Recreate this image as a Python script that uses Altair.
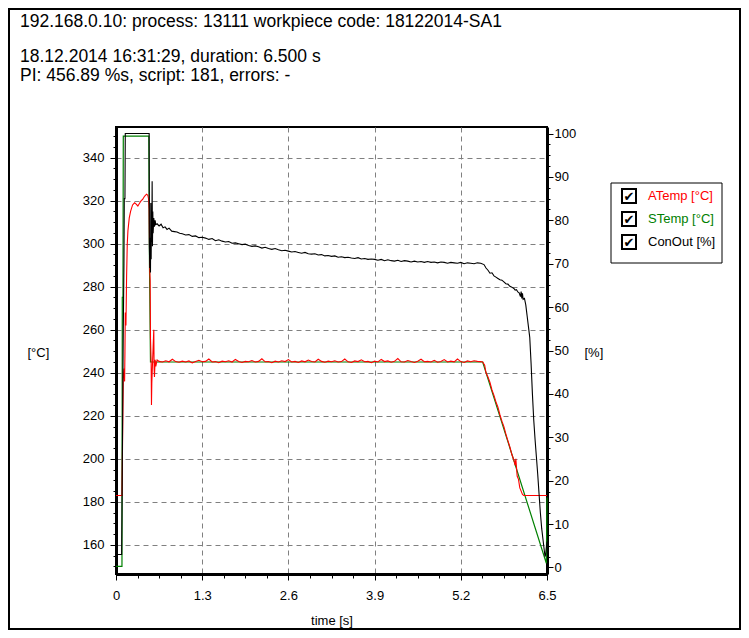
import altair as alt
import pandas as pd

# ---------------- data ----------------
header_lines = [
    "192.168.0.10: process: 13111 workpiece code: 18122014-SA1",
    "18.12.2014 16:31:29, duration: 6.500 s",
    "PI: 456.89 %s, script: 181, errors: -",
]

legend_labels = ["ATemp [°C]", "STemp [°C]", "ConOut [%]"]
legend_colors = ["#ff0000", "#008000", "#000000"]

x_ticks = [0, 0.325, 0.65, 0.975, 1.3, 1.625, 1.95, 2.275, 2.6, 2.925, 3.25,
           3.575, 3.9, 4.225, 4.55, 4.875, 5.2, 5.525, 5.85, 6.175, 6.5]
temp_ticks = [150, 155, 160, 165, 170, 175, 180, 185, 190, 195, 200, 205, 210,
              215, 220, 225, 230, 235, 240, 245, 250, 255, 260, 265, 270, 275,
              280, 285, 290, 295, 300, 305, 310, 315, 320, 325, 330, 335, 340,
              345, 350]
pct_ticks = [0, 2.5, 5, 7.5, 10, 12.5, 15, 17.5, 20, 22.5, 25, 27.5, 30, 32.5,
             35, 37.5, 40, 42.5, 45, 47.5, 50, 52.5, 55, 57.5, 60, 62.5, 65,
             67.5, 70, 72.5, 75, 77.5, 80, 82.5, 85, 87.5, 90, 92.5, 95, 97.5, 100]

# STemp (set temperature, °C)
stemp_t = [0, 0.09, 0.095, 0.105, 0.11, 0.495, 0.505, 0.52, 5.53, 6.49, 6.5]
stemp_v = [150, 150, 275, 275, 350, 350, 290, 245, 245, 151.5, 182]

# ATemp (actual temperature, °C)
atemp_t = [0, 0.08, 0.09, 0.11, 0.12, 0.13, 0.135, 0.14, 0.15, 0.16, 0.17,
           0.18, 0.20, 0.22, 0.25, 0.28, 0.30, 0.33, 0.35, 0.38, 0.40, 0.43,
           0.46, 0.48, 0.49, 0.50, 0.505, 0.51, 0.515, 0.52, 0.53, 0.535,
           0.54, 0.55, 0.56, 0.57, 0.575, 0.58, 0.59, 0.60, 0.62,
           0.65, 0.70, 0.75, 0.80, 0.85, 0.90, 0.95, 1.00, 1.05, 1.10, 1.15,
           1.20, 1.25, 1.30, 1.35, 1.40, 1.45, 1.50, 1.55, 1.60, 1.65, 1.70,
           1.75, 1.80, 1.85, 1.90, 1.95, 2.00, 2.05, 2.10, 2.15, 2.20, 2.25,
           2.30, 2.35, 2.40, 2.45, 2.50, 2.55, 2.60, 2.65, 2.70, 2.75, 2.80,
           2.85, 2.90, 2.95, 3.00, 3.05, 3.10, 3.15, 3.20, 3.25, 3.30, 3.35,
           3.40, 3.45, 3.50, 3.55, 3.60, 3.65, 3.70, 3.75, 3.80, 3.85, 3.90,
           3.95, 4.00, 4.05, 4.10, 4.15, 4.20, 4.25, 4.30, 4.35, 4.40, 4.45,
           4.50, 4.55, 4.60, 4.65, 4.70, 4.75, 4.80, 4.85, 4.90, 4.95, 5.00,
           5.05, 5.10, 5.15, 5.20, 5.25, 5.30, 5.35, 5.40, 5.45, 5.50,
           5.53, 5.56, 5.58, 5.61, 5.64, 5.67, 5.70, 5.73, 5.76, 5.79, 5.82,
           5.85, 5.88, 5.91, 5.94, 5.97, 6.00, 6.02, 6.03, 6.05, 6.07, 6.09,
           6.11, 6.13, 6.15, 6.5]
atemp_v = [183, 183, 183, 238, 242, 236, 250, 268, 262, 285, 300,
           306, 312, 315, 318, 319, 318.5, 317.5, 318.5, 320, 320.5, 322,
           323, 322.5, 321, 316, 300, 287, 283, 256, 245, 225,
           235, 244, 252, 260, 242, 238, 246, 243, 246,
           245.3, 245.0, 245.6, 245.1, 246.3, 245.2, 244.9, 245.4, 245.0, 245.5, 244.6,
           245.2, 245.8, 245.1, 245.3, 246.4, 245.0, 245.2, 244.7, 245.4, 245.1, 245.6,
           245.0, 246.2, 245.2, 244.8, 245.3, 245.1, 245.7, 245.0, 245.3, 246.5, 245.1,
           245.2, 244.7, 245.4, 245.0, 245.6, 245.2, 246.1, 245.0, 245.3, 244.8, 245.5,
           245.1, 245.9, 245.2, 245.0, 246.3, 245.3, 244.9, 245.4, 245.1, 245.6, 245.0,
           245.2, 246.4, 245.1, 244.8, 245.5, 245.2, 246.0, 245.1, 245.3, 244.7, 245.4,
           245.0, 246.2, 245.2, 245.5, 244.9, 245.3, 246.6, 245.1, 245.0, 245.7, 245.2,
           244.8, 245.4, 246.3, 245.1, 245.3, 245.0, 245.8, 244.9, 245.2, 246.1, 245.0,
           245.4, 245.1, 246.4, 245.2, 244.8, 245.5, 245.1, 245.6, 245.3, 245.2,
           245.0, 243.5, 240.0, 238.0, 235.5, 232.0, 229.5, 226.5, 224.0, 220.5, 217.5,
           215.0, 211.5, 208.5, 205.5, 202.0, 199.5, 197.0, 200.0, 192.0, 190.5, 186.5,
           185.0, 183.5, 183.0, 183.0]

# ConOut (controller output, %)
conout_t = [0, 0.085, 0.09, 0.10, 0.11, 0.12, 0.125, 0.135, 0.14, 0.50, 0.503,
            0.51, 0.515, 0.52, 0.525, 0.53, 0.535, 0.54, 0.545, 0.55, 0.555,
            0.56, 0.57, 0.58, 0.59, 0.60, 0.62, 0.65, 0.68, 0.71, 0.74, 0.77,
            0.80, 0.84, 0.88, 0.92, 0.96, 1.00, 1.05, 1.10, 1.15, 1.20, 1.25,
            1.30, 1.35, 1.40, 1.45, 1.50, 1.55, 1.60, 1.65, 1.70, 1.75, 1.80,
            1.85, 1.90, 1.95, 2.00, 2.05, 2.10, 2.15, 2.20, 2.25, 2.30, 2.35,
            2.40, 2.45, 2.50, 2.55, 2.60, 2.65, 2.70, 2.75, 2.80, 2.85, 2.90,
            2.95, 3.00, 3.05, 3.10, 3.15, 3.20, 3.25, 3.30, 3.35, 3.40, 3.45,
            3.50, 3.55, 3.60, 3.65, 3.70, 3.75, 3.80, 3.85, 3.90, 3.95, 4.00,
            4.05, 4.10, 4.15, 4.20, 4.25, 4.30, 4.35, 4.40, 4.45, 4.50, 4.55,
            4.60, 4.65, 4.70, 4.75, 4.80, 4.85, 4.90, 4.95, 5.00, 5.05, 5.10,
            5.15, 5.20, 5.25, 5.30, 5.35, 5.40, 5.45, 5.50, 5.55, 5.58, 5.61,
            5.64, 5.67, 5.70, 5.73, 5.76, 5.79, 5.82, 5.85, 5.88, 5.91, 5.94,
            5.97, 6.00, 6.02, 6.04, 6.06, 6.08, 6.10, 6.11, 6.12, 6.13, 6.14,
            6.16, 6.18, 6.20, 6.22, 6.24, 6.26, 6.28, 6.30, 6.32, 6.34, 6.36,
            6.38, 6.40, 6.42, 6.44, 6.46, 6.47, 6.48, 6.50]
conout_v = [3, 3, 12, 35, 55, 70, 85, 85, 100, 100, 74,
            69, 76, 68, 84, 71, 80, 75, 89, 74, 82,
            77, 80.5, 78.5, 80, 79, 79.2, 78.7, 79.1, 78.3, 78.5, 77.9,
            78.2, 77.5, 77.4, 77.3, 77.0, 76.9, 76.6, 76.7, 76.3, 76.4, 76.0,
            76.1, 75.9, 75.6, 75.8, 75.3, 75.5, 75.2, 75.0, 75.1, 74.7, 74.8,
            74.6, 74.4, 74.5, 74.2, 74.0, 74.1, 73.9, 73.6, 73.8, 73.5, 73.3,
            73.5, 73.2, 73.0, 73.1, 72.9, 72.7, 72.8, 72.6, 72.4, 72.6, 72.3,
            72.2, 72.3, 72.0, 72.1, 71.8, 71.9, 71.7, 71.8, 71.5, 71.6, 71.4,
            71.5, 71.3, 71.2, 71.4, 71.1, 71.2, 71.0, 71.1, 71.0, 70.8, 71.0,
            70.7, 70.9, 70.7, 70.6, 70.8, 70.5, 70.7, 70.6, 70.4, 70.6, 70.4,
            70.5, 70.3, 70.5, 70.3, 70.4, 70.2, 70.4, 70.3, 70.1, 70.3, 70.2,
            70.1, 70.3, 70.0, 70.2, 70.1, 70.0, 70.2, 70.1, 69.8, 69.0, 68.5,
            67.8, 67.9, 67.2, 66.9, 66.6, 66.3, 66.2, 65.8, 65.4, 65.3, 64.8,
            64.6, 64.3, 63.9, 64.0, 63.5, 63.3, 62.4, 63.6, 62.0, 63.2, 61.8,
            62.0, 60.5, 58.0, 55.5, 53.0, 47.0, 40.0, 34.0, 29.5, 25.5, 21.5,
            17.0, 12.6, 9.0, 6.4, 3.8, 2.5, 3.0, 6.0]

n = min(len(atemp_t), len(atemp_v))
atemp_t, atemp_v = atemp_t[:n], atemp_v[:n]
n = min(len(conout_t), len(conout_v))
conout_t, conout_v = conout_t[:n], conout_v[:n]

# ---------------- styling ----------------
FONT = "Liberation Sans"
W, H = 431, 447
GRID = "#808080"

stemp_df = pd.DataFrame({"t": stemp_t, "v": stemp_v})
atemp_df = pd.DataFrame({"t": atemp_t, "v": atemp_v})
conout_df = pd.DataFrame({"t": conout_t, "v": conout_v})
one = pd.DataFrame({"k": [0]})

major_x = "abs(datum.value / 1.3 - round(datum.value / 1.3)) < 0.01"
x_axis = alt.Axis(
    values=x_ticks,
    labelExpr=f"{major_x} ? format(datum.value, '~g') : ''",
    tickSize={"condition": {"test": major_x, "value": 6}, "value": 4},
    grid=True,
    gridColor=GRID,
    gridDash=[5, 4],
    gridOpacity={"condition": {"test": f"{major_x} && datum.value > 0.1 && datum.value < 6.4", "value": 1}, "value": 0},
    title="time [s]",
    titleX=W / 2,
    titleY=46,
    titleBaseline="middle",
    labelPadding=9,
    labelFlush=False,
)
x_enc = alt.X("t:Q", scale=alt.Scale(domain=[0, 6.5], nice=False, zero=False), axis=x_axis)

major_t = "datum.value % 20 == 0"
temp_axis = alt.Axis(
    orient="left",
    values=temp_ticks,
    labelExpr=f"{major_t} ? datum.label : ''",
    tickSize={"condition": {"test": major_t, "value": 6}, "value": 3},
    grid=True,
    gridColor=GRID,
    gridDash=[5, 4],
    gridOpacity={"condition": {"test": major_t, "value": 1}, "value": 0},
    title="[°C]",
    titleAngle=0,
    titleAlign="left",
    titleBaseline="middle",
    titleX=-89,
    titleY=225,
    labelPadding=6,
)
temp_scale = alt.Scale(domain=[146.5, 354.2], nice=False, zero=False)

major_p = "datum.value % 10 == 0"
pct_axis = alt.Axis(
    orient="right",
    values=pct_ticks,
    labelExpr=f"{major_p} ? datum.label : ''",
    tickSize={"condition": {"test": major_p, "value": 6}, "value": 3},
    grid=False,
    title="[%]",
    titleAngle=0,
    titleAlign="left",
    titleBaseline="middle",
    titleX=37,
    titleY=225,
    labelPadding=1,
)
pct_scale = alt.Scale(domain=[-1.5, 101.5], nice=False, zero=False)

stemp = alt.Chart(stemp_df).mark_line(color="#008000", strokeWidth=1.2).encode(
    x=x_enc, y=alt.Y("v:Q", scale=temp_scale, axis=temp_axis), order="t:Q")
atemp = alt.Chart(atemp_df).mark_line(color="#ff0000", strokeWidth=1.1).encode(
    x=x_enc, y=alt.Y("v:Q", scale=temp_scale, axis=temp_axis), order="t:Q")
conout = alt.Chart(conout_df).mark_line(color="#000000", strokeWidth=1.1).encode(
    x=x_enc, y=alt.Y("v:Q", scale=pct_scale, axis=pct_axis), order="t:Q")

temps = alt.layer(stemp, atemp)

# header text
header = []
for txt, yy in zip(header_lines, [-100, -65, -46]):
    header.append(
        alt.Chart(one).mark_text(text=txt, align="left", baseline="alphabetic",
                                 font=FONT, fontSize=17.5, color="black")
        .encode(x=alt.value(-96), y=alt.value(yy)))

# legend
legend = [
    alt.Chart(one).mark_rect(fill="white", stroke="#000000", strokeWidth=1)
    .encode(x=alt.value(495), x2=alt.value(606), y=alt.value(56), y2=alt.value(136))
]
for i, (lab, col) in enumerate(zip(legend_labels, legend_colors)):
    cy = 69 + 23 * i
    legend.append(
        alt.Chart(one).mark_rect(fill="white", stroke="#000000", strokeWidth=2)
        .encode(x=alt.value(506), x2=alt.value(520), y=alt.value(cy - 7), y2=alt.value(cy + 7)))
    legend.append(
        alt.Chart(one).mark_text(text="✔", align="center", baseline="middle",
                                 font="DejaVu Sans", fontSize=13, fontWeight="bold",
                                 color="black")
        .encode(x=alt.value(513), y=alt.value(cy + 1)))
    legend.append(
        alt.Chart(one).mark_text(text=lab, align="left", baseline="middle",
                                 font=FONT, fontSize=13, color=col)
        .encode(x=alt.value(532), y=alt.value(cy)))

frame = alt.Chart(one).mark_rect(filled=False, stroke="black", strokeWidth=2).encode(
    x=alt.value(-107), x2=alt.value(624), y=alt.value(-118), y2=alt.value(502))

chart = alt.layer(
    temps, conout, frame, *header, *legend
).resolve_scale(y="independent").properties(
    width=W, height=H,
    autosize=alt.AutoSizeParams(type="none"),
    padding={"left": 108, "top": 119, "right": 194, "bottom": 56},
).configure_view(
    stroke="black", strokeWidth=2
).configure_axis(
    labelFont=FONT, labelFontSize=13, labelColor="black",
    titleFont=FONT, titleFontSize=13, titleColor="black", titleFontWeight="normal",
    domainColor="black", domainWidth=3, tickColor="black", tickWidth=1,
)

chart.save("out.html", embed_options={"renderer": "svg", "actions": False})
